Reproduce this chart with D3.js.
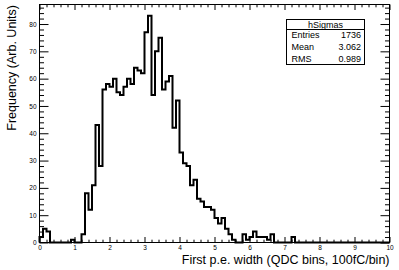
<!DOCTYPE html>
<html>
<head>
<meta charset="utf-8">
<script src="https://cdn.jsdelivr.net/npm/d3@7"></script>
<style>
  body { margin: 0; background: #fff; }
  svg { display: block; font-family: "Liberation Sans", Arial, Helvetica, sans-serif; }
</style>
</head>
<body>
<svg id="chart" width="399" height="270"></svg>
<script>
// hSigmas: 100 bins from 0 to 10
const binValues = [
  2, 5, 4, 0, 0, 0, 0, 0, 0, 1,
  0, 0, 3, 18, 12, 21, 43, 28, 56, 58,
  57, 60, 55, 54, 57, 60, 58, 64, 63, 62,
  77, 83, 54, 70, 75, 56, 59, 61, 42, 52,
  33, 29, 28, 21, 23, 16, 15, 13, 13, 12,
  9, 7, 9, 5, 3, 1, 0, 0, 3, 1,
  2, 4, 2, 2, 2, 1, 3, 0, 0, 0,
  0, 0, 2, 0, 0, 0, 0, 0, 0, 0,
  0, 0, 0, 0, 0, 0, 0, 0, 0, 0,
  0, 0, 0, 0, 0, 0, 0, 0, 0, 0
];
const xRange = [0, 10];
const xTickValues = [0, 1, 2, 3, 4, 5, 6, 7, 8, 9, 10];
const yTickValues = [0, 10, 20, 30, 40, 50, 60, 70, 80];
const histName = 'hSigmas';
const statLabels = ['Entries', 'Mean', 'RMS'];
const statValues = ['1736', '3.062', '0.989'];
const xTitle = 'First p.e. width (QDC bins, 100fC/bin)';
const yTitle = 'Frequency (Arb. Units)';

const frame = { left: 39.5, right: 389.5, top: 4.5, bottom: 242.5 };
const svg = d3.select('#chart');

const binWidth = (xRange[1] - xRange[0]) / binValues.length;
const x = d3.scaleLinear().domain(xRange).range([frame.left, frame.right]);
const y = d3.scaleLinear()
  .domain([0, d3.max(binValues) * 1.05])
  .range([frame.bottom, frame.top]);

const xMinor = d3.range(0, 50).map(i => i * 0.2).filter((d, i) => i % 5 !== 0);
const yMinor = d3.range(0, 44).map(i => i * 2).filter((d, i) => i % 5 !== 0 && d <= y.domain()[1]);

// frame
svg.append('rect')
  .attr('x', frame.left)
  .attr('y', frame.top)
  .attr('width', frame.right - frame.left)
  .attr('height', frame.bottom - frame.top)
  .attr('fill', '#fff')
  .attr('stroke', '#000')
  .attr('stroke-width', 1);

const tickStyle = g => {
  g.select('.domain').remove();
  g.selectAll('line').attr('stroke', '#000');
  g.selectAll('text').attr('fill', '#000').attr('font-size', 6.5);
};

// bottom axis (labels) + minor ticks
svg.append('g')
  .attr('transform', `translate(0,${frame.bottom})`)
  .call(d3.axisBottom(x).tickValues(xTickValues).tickFormat(d3.format('d'))
    .tickSizeInner(-5.5).tickSizeOuter(0).tickPadding(3))
  .call(tickStyle);
svg.append('g')
  .attr('transform', `translate(0,${frame.bottom})`)
  .call(d3.axisBottom(x).tickValues(xMinor).tickFormat('').tickSizeInner(-2.8).tickSizeOuter(0))
  .call(tickStyle);

// top ticks
svg.append('g')
  .attr('transform', `translate(0,${frame.top})`)
  .call(d3.axisTop(x).tickValues(xTickValues).tickFormat('').tickSizeInner(-5.5).tickSizeOuter(0))
  .call(tickStyle);
svg.append('g')
  .attr('transform', `translate(0,${frame.top})`)
  .call(d3.axisTop(x).tickValues(xMinor).tickFormat('').tickSizeInner(-2.8).tickSizeOuter(0))
  .call(tickStyle);

// left axis (labels) + minor ticks
svg.append('g')
  .attr('transform', `translate(${frame.left},0)`)
  .call(d3.axisLeft(y).tickValues(yTickValues).tickFormat(d3.format('d'))
    .tickSizeInner(-9).tickSizeOuter(0).tickPadding(3))
  .call(tickStyle);
svg.append('g')
  .attr('transform', `translate(${frame.left},0)`)
  .call(d3.axisLeft(y).tickValues(yMinor).tickFormat('').tickSizeInner(-4.5).tickSizeOuter(0))
  .call(tickStyle);

// right ticks
svg.append('g')
  .attr('transform', `translate(${frame.right},0)`)
  .call(d3.axisRight(y).tickValues(yTickValues).tickFormat('').tickSizeInner(-9).tickSizeOuter(0))
  .call(tickStyle);
svg.append('g')
  .attr('transform', `translate(${frame.right},0)`)
  .call(d3.axisRight(y).tickValues(yMinor).tickFormat('').tickSizeInner(-4.5).tickSizeOuter(0))
  .call(tickStyle);

// histogram outline
const pts = [[xRange[0], 0]];
binValues.forEach((v, i) => pts.push([xRange[0] + i * binWidth, v]));
pts.push([xRange[1], 0]);

svg.append('path')
  .datum(pts)
  .attr('fill', 'none')
  .attr('stroke', '#000')
  .attr('stroke-width', 2)
  .attr('d', d3.line()
    .x(d => x(d[0]))
    .y(d => y(d[1]))
    .curve(d3.curveStepAfter));

// stats box
const box = { x: 286.5, y: 19.5, w: 78, h: 45, head: 10 };
const stats = svg.append('g').attr('font-size', 9).attr('fill', '#000');
stats.append('rect')
  .attr('x', box.x).attr('y', box.y)
  .attr('width', box.w).attr('height', box.h)
  .attr('fill', '#fff').attr('stroke', '#000');
stats.append('line')
  .attr('x1', box.x).attr('x2', box.x + box.w)
  .attr('y1', box.y + box.head).attr('y2', box.y + box.head)
  .attr('stroke', '#000');
stats.append('text')
  .attr('x', box.x + box.w / 2)
  .attr('y', box.y + box.head / 2)
  .attr('dy', '0.35em')
  .attr('text-anchor', 'middle')
  .text(histName);
const rowH = (box.h - box.head) / statLabels.length;
statLabels.forEach((s, i) => {
  const cy = box.y + box.head + rowH * (i + 0.5);
  stats.append('text')
    .attr('x', box.x + 5).attr('y', cy).attr('dy', '0.35em')
    .text(s);
  stats.append('text')
    .attr('x', box.x + box.w - 3.5).attr('y', cy).attr('dy', '0.35em')
    .attr('text-anchor', 'end')
    .text(statValues[i]);
});

// axis titles
svg.append('text')
  .attr('x', frame.right)
  .attr('y', 264)
  .attr('text-anchor', 'end')
  .attr('font-size', 12.5)
  .text(xTitle);

svg.append('text')
  .attr('transform', 'translate(16,5) rotate(-90)')
  .attr('text-anchor', 'end')
  .attr('font-size', 12.5)
  .text(yTitle);
</script>
</body>
</html>
